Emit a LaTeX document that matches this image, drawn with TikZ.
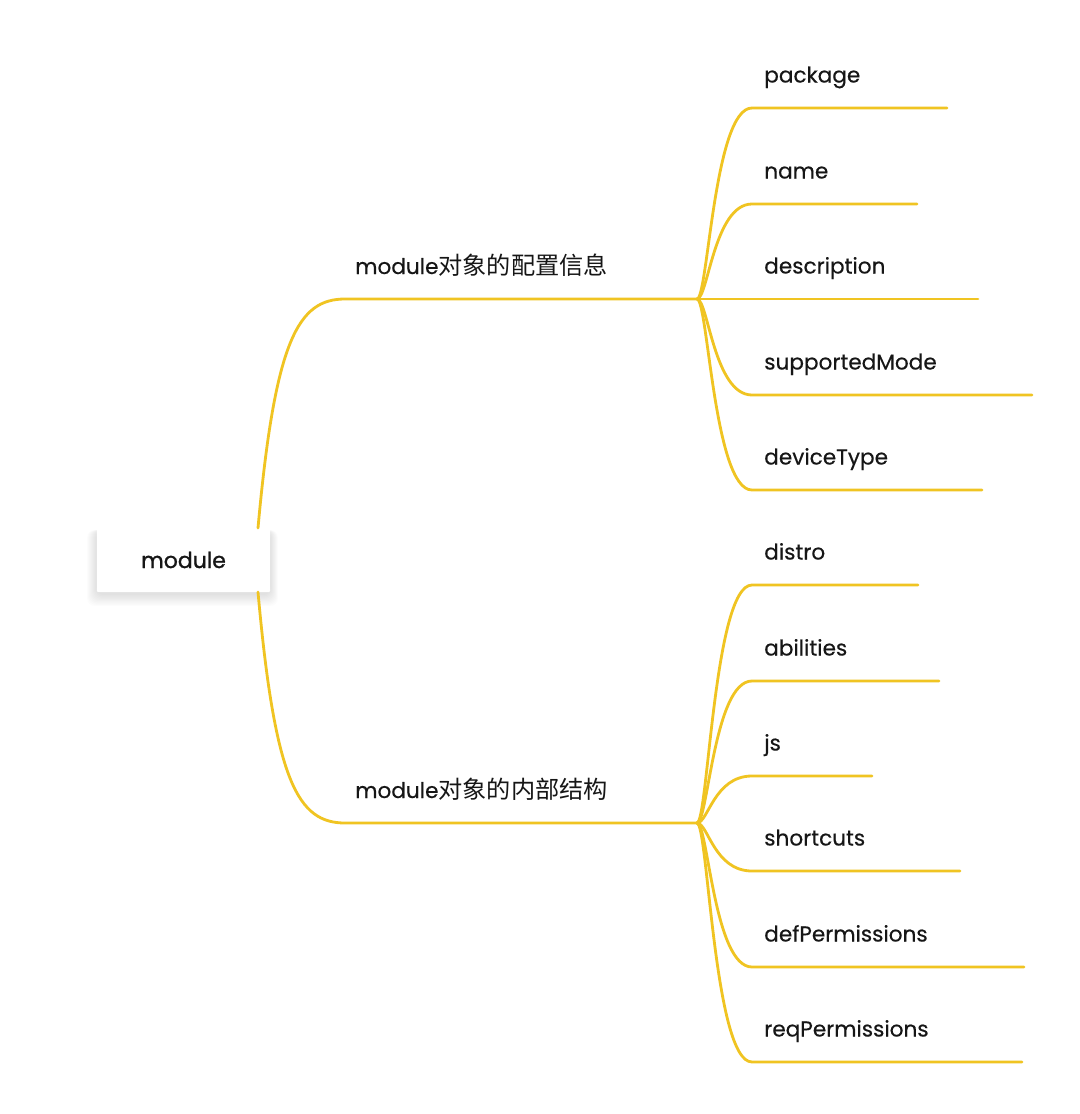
\documentclass[tikz,border=0pt]{standalone}
\usepackage{fontspec}
\setmainfont{Poppins}[FakeBold=0.35]
\newfontfamily\cjk{Noto Sans CJK SC}[Scale=1.12]
\newfontfamily\rootfont{Poppins}[FakeBold=1.1]
\definecolor{branch}{RGB}{240,196,34}
\definecolor{txt}{RGB}{22,22,22}
\tikzset{
  conn/.style={draw=branch, line width=2.1pt, line cap=round},
  leaf/.style={anchor=base west, inner sep=0pt, text=txt, font=\fontsize{16.2}{19}\selectfont},
  mid/.style={anchor=base west, inner sep=0pt, text=txt, font=\fontsize{16.2}{19}\selectfont},
  rootbox/.style={fill=white, rounded corners=1pt, minimum width=130pt, minimum height=49pt},
  shadowlayer/.style={fill=black, fill opacity=0.013, rounded corners=6pt},
}
\begin{document}
\begin{tikzpicture}[x=0.75pt,y=-0.75pt]
\useasboundingbox (0,0) rectangle (1080,1114);
\fill[white] (0,0) rectangle (1080,1114);
% root shadow
\foreach \i in {1,...,10}{
  \fill[shadowlayer] (97-\i,530) rectangle (270+\i*0.8,594+\i*1.2);
}
% root
\node[rootbox] (rootb) at (183.5,559.5) {};
\node[anchor=base, inner sep=0pt, text=txt, font=\rootfont\fontsize{16.5}{19}\selectfont] (root) at (183.5,568) {module};
\coordinate (rtop) at (258,528);
\coordinate (rbot) at (258,592);
% main branches
\coordinate (h1) at (697,299);
\coordinate (h2) at (697,823);
\coordinate (b1s) at (345,299);
\coordinate (b2s) at (345,823);
\draw[conn] (rtop) .. controls (275,340) and (298,299) .. (b1s) -- (h1);
\draw[conn] (rbot) .. controls (275,782) and (298,823) .. (b2s) -- (h2);
\node[mid] (l1) at (355,274) {module{\cjk 对象的配置信息}};
\node[mid] (l2) at (355,798) {module{\cjk 对象的内部结构}};
% leaves of group 1
\foreach \nm/\ly/\xe/\lab in {pk/108/947/package, nm/204/917/name, sm/395/1032/supportedMode, dt/490/982/deviceType}{
  \coordinate (\nm s) at (752,\ly);
  \coordinate (\nm e) at (\xe,\ly);
  \draw[conn] (h1) .. controls (708,299) and (714,\ly) .. (\nm s) -- (\nm e);
  \node[leaf] (\nm) at (764,\ly-25.5) {\lab};
}
\coordinate (dse) at (978,299);
\draw[conn] (h1) -- (dse);
\node[leaf] (ds) at (764,299-25.5) {description};
% leaves of group 2
\foreach \nm/\ly/\xe/\lab in {di/585/918/distro, ab/681/939/abilities, js/776/872/js, sc/871/960/shortcuts, dp/967/1024/defPermissions, rp/1062/1022/reqPermissions}{
  \coordinate (\nm s) at (752,\ly);
  \coordinate (\nm e) at (\xe,\ly);
  \draw[conn] (h2) .. controls (708,823) and (714,\ly) .. (\nm s) -- (\nm e);
  \node[leaf] (\nm) at (764,\ly-25.5) {\lab};
}
\end{tikzpicture}
\end{document}
